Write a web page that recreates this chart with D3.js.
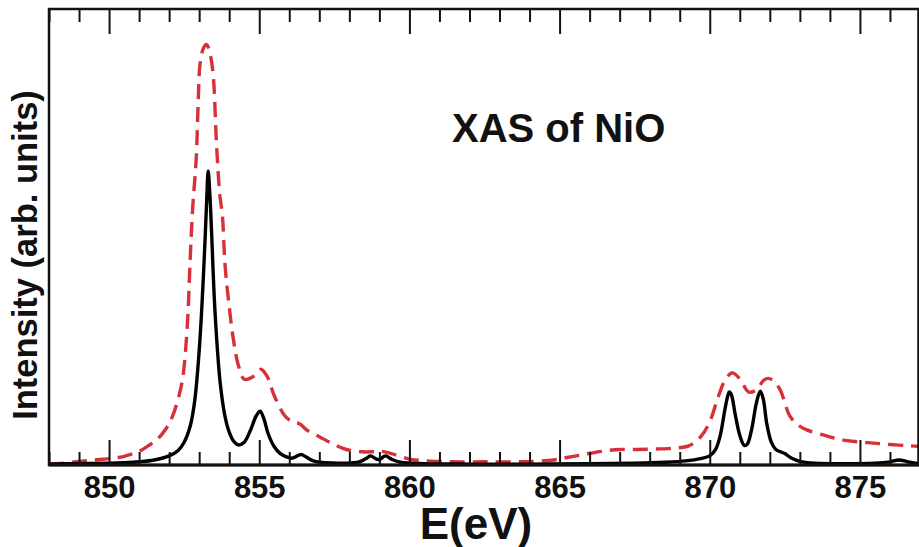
<!DOCTYPE html>
<html>
<head>
<meta charset="utf-8">
<script src="https://cdn.jsdelivr.net/npm/d3@7"></script>
<style>
  html, body { margin: 0; padding: 0; background: #fff; }
  svg { display: block; }
  text { font-family: "Liberation Sans", Arial, Helvetica, sans-serif; font-weight: bold; fill: #111; }
</style>
</head>
<body>
<svg id="chart" width="919" height="547"></svg>
<script>
// Ni L2,3-edge X-ray absorption of NiO: sharp multiplet spectrum (black)
// and the broadened spectrum (red dashed). Energies in eV, intensity in arb. units.
const energySharp = [
  848.0, 849.0, 850.0, 850.5, 851.0, 851.5, 852.0, 852.3, 852.5, 852.7,
  852.85, 853.0, 853.1, 853.2, 853.25, 853.3, 853.35, 853.42, 853.5, 853.6,
  853.7, 853.85, 854.0, 854.15, 854.3, 854.5, 854.7, 854.9, 855.03, 855.15,
  855.3, 855.5, 855.7, 855.9, 856.1, 856.3, 856.4, 856.55, 856.8, 857.2,
  857.8, 858.3, 858.6, 858.7, 858.9, 859.0, 859.2, 859.4, 859.7, 860.5,
  862.0, 864.0, 866.0, 867.5, 868.5, 869.2, 869.7, 870.0, 870.2, 870.35,
  870.5, 870.6, 870.65, 870.72, 870.85, 871.0, 871.15, 871.25, 871.4, 871.55,
  871.68, 871.78, 871.9, 872.05, 872.2, 872.35, 872.5, 872.7, 873.0, 873.5,
  874.5, 875.5, 876.0, 876.3, 876.6, 877.0
];
const intensitySharp = [
  0.2, 0.3, 0.4, 0.5, 0.7, 1.1, 2.0, 3.2, 5.0, 8.5,
  14.0, 25.0, 36.0, 50.0, 58.0, 64.5, 60.0, 50.0, 37.0, 26.0,
  18.0, 11.0, 7.2, 5.2, 4.4, 5.0, 7.5, 10.8, 11.8, 10.2,
  6.8, 4.0, 2.5, 1.8, 1.5, 2.1, 2.3, 1.8, 0.9, 0.5,
  0.4, 0.6, 1.6, 2.0, 1.3, 1.2, 2.0, 1.3, 0.6, 0.3,
  0.2, 0.2, 0.3, 0.4, 0.6, 0.9, 1.4, 2.0, 3.5, 6.5,
  12.0, 15.2, 16.0, 15.4, 11.0, 6.5, 4.3, 4.6, 8.0, 13.5,
  16.2, 14.5, 9.0, 5.0, 3.4, 2.9, 2.5, 1.6, 0.8, 0.4,
  0.3, 0.4, 0.7, 1.1, 0.7, 0.3
];

const energyBroad = [
  848.0, 848.5, 849.0, 849.5, 850.0, 850.5, 851.0, 851.3, 851.6, 851.9,
  852.1, 852.3, 852.45, 852.6, 852.7, 852.78, 852.9, 852.97, 853.03, 853.15,
  853.25, 853.35, 853.46, 853.58, 853.69, 853.77, 853.86, 853.97, 854.14, 854.3,
  854.5, 854.8, 855.05, 855.25, 855.5, 855.85, 856.1, 856.35, 856.6, 857.0,
  857.4, 857.9, 858.4, 858.8, 859.05, 859.4, 860.0, 860.6, 861.4, 862.5,
  863.6, 864.2, 864.8, 865.3, 865.8, 866.4, 867.0, 867.6, 868.2, 868.8,
  869.3, 869.7, 870.0, 870.25, 870.5, 870.75, 871.0, 871.3, 871.55, 871.8,
  871.95, 872.15, 872.35, 872.68, 873.0, 873.23, 873.78, 874.34, 874.9, 875.45,
  876.0, 876.67, 877.0
];
const intensityBroad = [
  0.3, 0.4, 0.8, 1.1, 1.4, 1.9, 3.0, 4.2, 5.6, 8.0,
  10.5, 14.5, 19.0, 30.0, 45.0, 56.0, 67.0, 80.0, 88.0, 91.5,
  92.2, 90.5, 86.0, 70.0, 59.0, 55.0, 44.0, 36.5, 27.5, 22.0,
  18.8, 19.4, 21.0, 19.6, 15.2, 10.8, 9.5, 9.0, 7.6, 6.2,
  4.8, 3.4, 2.9, 2.9, 3.0, 2.5, 1.3, 0.9, 0.7, 0.7,
  0.7, 0.8, 1.1, 1.7, 2.3, 3.0, 3.4, 3.4, 3.5, 3.7,
  4.2, 6.2, 9.5, 14.3, 18.5, 20.2, 18.9, 16.0, 16.5, 18.6,
  19.0, 18.3, 16.4, 10.6, 8.5, 7.7, 6.6, 5.6, 5.1, 4.8,
  4.5, 4.2, 4.1
];

const majorTicks = [850, 855, 860, 865, 870, 875];
const minorTicks = d3.range(848, 878, 1).filter(v => v % 5 !== 0);

const titleText = "XAS of NiO";
const xLabel = "E(eV)";
const yLabel = "Intensity (arb. units)";

const svg = d3.select("#chart");
const plotLeft = 49, plotRight = 920, plotTop = 9, plotBottom = 465;

const x = d3.scaleLinear().domain([848, 877]).range([plotLeft, plotRight]);
const y = d3.scaleLinear().domain([0, 100]).range([plotBottom, plotTop]);

svg.append("rect").attr("width", 919).attr("height", 547).attr("fill", "#fff");

svg.append("defs").append("clipPath").attr("id", "plot-clip")
  .append("rect").attr("x", plotLeft).attr("y", plotTop)
  .attr("width", plotRight - plotLeft).attr("height", plotBottom - plotTop);

const line = d3.line()
  .x(d => x(d[0]))
  .y(d => y(d[1]))
  .curve(d3.curveCatmullRom.alpha(0.5));

const plot = svg.append("g").attr("clip-path", "url(#plot-clip)");

plot.append("path")
  .datum(d3.zip(energyBroad, intensityBroad))
  .attr("d", line)
  .attr("fill", "none")
  .attr("stroke", "#d8303a")
  .attr("stroke-width", 3.4)
  .attr("stroke-dasharray", "15,8");

plot.append("path")
  .datum(d3.zip(energySharp, intensitySharp))
  .attr("d", line)
  .attr("fill", "none")
  .attr("stroke", "#000")
  .attr("stroke-width", 3.4)
  .attr("stroke-linejoin", "round");

// Inward ticks on bottom and top edges
function styleAxis(g) {
  g.select(".domain").remove();
  g.selectAll(".tick line").attr("stroke", "#111").attr("stroke-width", 2);
}

svg.append("g")
  .attr("transform", `translate(0,${plotBottom})`)
  .call(d3.axisBottom(x).tickValues(minorTicks).tickSize(-13).tickFormat(""))
  .call(styleAxis);

svg.append("g")
  .attr("transform", `translate(0,${plotBottom})`)
  .call(d3.axisBottom(x).tickValues(majorTicks).tickSize(-25).tickPadding(11).tickFormat(d3.format("d")))
  .call(styleAxis)
  .call(g => g.selectAll("text")
    .attr("font-size", 31)
    .attr("font-family", "'Liberation Sans', Arial, sans-serif")
    .attr("font-weight", "bold")
    .attr("fill", "#111"));

svg.append("g")
  .attr("transform", `translate(0,${plotTop})`)
  .call(d3.axisTop(x).tickValues(minorTicks).tickSize(-13).tickFormat(""))
  .call(styleAxis);

svg.append("g")
  .attr("transform", `translate(0,${plotTop})`)
  .call(d3.axisTop(x).tickValues(majorTicks).tickSize(-25).tickFormat(""))
  .call(styleAxis);

// Frame
svg.append("rect")
  .attr("x", plotLeft).attr("y", plotTop)
  .attr("width", 918.5 - plotLeft).attr("height", plotBottom - plotTop)
  .attr("fill", "none").attr("stroke", "#111").attr("stroke-width", 2.5);

svg.append("line")
  .attr("x1", plotLeft).attr("x2", 919).attr("y1", plotBottom).attr("y2", plotBottom)
  .attr("stroke", "#111").attr("stroke-width", 3);

// Text
svg.append("text")
  .attr("x", 452).attr("y", 141.5)
  .attr("font-size", 40)
  .text(titleText);

svg.append("text")
  .attr("x", 476).attr("y", 539)
  .attr("text-anchor", "middle")
  .attr("font-size", 44)
  .text(xLabel);

svg.append("text")
  .attr("transform", "translate(37,255) rotate(-90)")
  .attr("text-anchor", "middle")
  .attr("font-size", 34.5)
  .text(yLabel);
</script>
</body>
</html>
